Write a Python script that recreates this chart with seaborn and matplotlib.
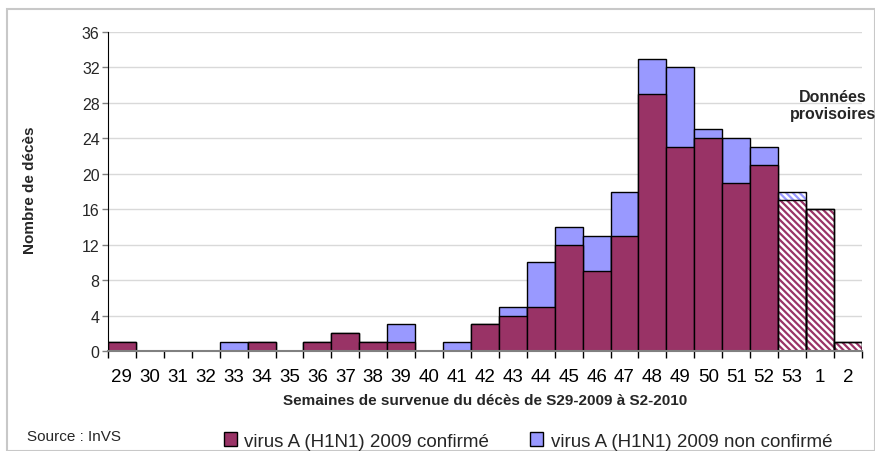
import numpy as np
import pandas as pd
import matplotlib
matplotlib.use("Agg")
import matplotlib.pyplot as plt
from matplotlib.patches import Rectangle, Patch
import seaborn as sns

# Weekly deaths, S29-2009 to S2-2010
weeks = ['29', '30', '31', '32', '33', '34', '35', '36', '37', '38', '39', '40', '41',
         '42', '43', '44', '45', '46', '47', '48', '49', '50', '51', '52', '53', '1', '2']
confirmed = [1, 0, 0, 0, 0, 1, 0, 1, 2, 1, 1, 0, 0,
             3, 4, 5, 12, 9, 13, 29, 23, 24, 19, 21, 17, 16, 1]
not_confirmed = [0, 0, 0, 0, 1, 0, 0, 0, 0, 0, 2, 0, 1,
                 0, 1, 5, 2, 4, 5, 4, 9, 1, 5, 2, 1, 0, 0]
provisional = ['53', '1', '2']

PLUM = '#993366'
BLUE = '#9999FF'

df = pd.DataFrame({'week': weeks, 'confirmed': confirmed, 'not_confirmed': not_confirmed})
df['total'] = df['confirmed'] + df['not_confirmed']

sns.set_style('white')
plt.rcParams['font.family'] = ['Liberation Sans', 'DejaVu Sans']
plt.rcParams['hatch.linewidth'] = 1.6

fig = plt.figure(figsize=(8.75, 4.52), dpi=100)
ax = fig.add_axes([0.1234, 0.2212, 0.8616, 0.7058])

# stacked bars: total (blue) first, confirmed (plum) drawn over it
sns.barplot(data=df, x='week', y='total', order=weeks, color=BLUE, saturation=1,
            width=1.0, edgecolor='black', linewidth=1.0, ax=ax)
sns.barplot(data=df, x='week', y='confirmed', order=weeks, color=PLUM, saturation=1,
            width=1.0, edgecolor='black', linewidth=1.0, ax=ax)

n = len(weeks)
patches = list(ax.patches)
for i, w in enumerate(weeks):
    if w not in provisional:
        continue
    for p, col in ((patches[i], BLUE), (patches[n + i], PLUM)):
        if p.get_height() <= 0:
            continue
        p.set_facecolor('white')
        p.set_edgecolor(col)
        p.set_hatch('\\\\\\\\\\')
        p.set_linewidth(0)
        ax.add_patch(Rectangle(p.get_xy(), p.get_width(), p.get_height(),
                               fill=False, edgecolor='black', lw=1.0, zorder=p.get_zorder() + 0.1))

ax.set_xlim(-0.5, n - 0.5)
ax.set_ylim(0, 36)
ax.set_yticks(np.arange(0, 37, 4))
ax.yaxis.grid(True, color='#d9d9d9', lw=1)
ax.set_axisbelow(True)

ax.set_xticks(np.arange(n))
ax.set_xticklabels(weeks)
ax.set_xticks(np.arange(-0.5, n), minor=True)
ax.tick_params(axis='x', which='major', length=0, pad=12, labelsize=13.5, colors='black')
ax.tick_params(axis='x', which='minor', length=5, width=1, color='black', bottom=True)
ax.tick_params(axis='y', length=4, width=1, color='#808080', pad=2, labelsize=11.5, left=True)
ax.set_xlabel('')
ax.set_ylabel('')

for s in ['top', 'right']:
    ax.spines[s].set_visible(False)
ax.spines['left'].set_color('black')
ax.spines['bottom'].set_color('#808080')
ax.spines['bottom'].set_linewidth(1.5)

fig.text(30 / 875, 1 - 190 / 452, 'Nombre de décès', rotation=90, ha='center', va='center',
         fontsize=11, fontweight='bold')
fig.text(485 / 875, 1 - 401 / 452, 'Semaines de survenue du décès de S29-2009 à S2-2010',
         ha='center', va='center', fontsize=11, fontweight='bold')
fig.text(833 / 875, 1 - 106 / 452, 'Données\nprovisoires', ha='center', va='center',
         fontsize=11.5, fontweight='bold', multialignment='center', linespacing=1.25)
fig.text(27 / 875, 1 - 437 / 452, 'Source : InVS', ha='left', va='center', fontsize=11)

handles = [Patch(facecolor=PLUM, edgecolor='black', label='virus A (H1N1) 2009 confirmé'),
           Patch(facecolor=BLUE, edgecolor='black', label='virus A (H1N1) 2009 non confirmé')]
fig.legend(handles=handles, loc='center', bbox_to_anchor=(528 / 875, 1 - 442 / 452), ncol=2,
           frameon=False, fontsize=13.5, handlelength=0.7, handleheight=0.7,
           handletextpad=0.4, columnspacing=2.2)

fig.add_artist(Rectangle((7 / 875, 0), 1 - 7 / 875, 1 - 10 / 452, transform=fig.transFigure,
                         fill=False, edgecolor='#c8c8c8', lw=1.5))

fig.savefig('out.png', dpi=100)
